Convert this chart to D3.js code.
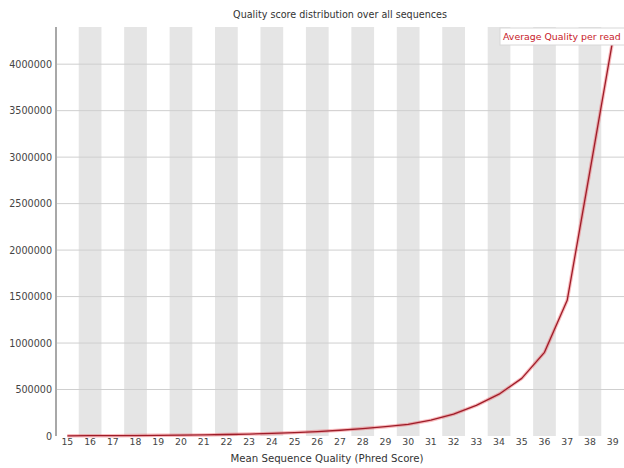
<!DOCTYPE html>
<html>
<head>
<meta charset="utf-8">
<script src="https://cdn.jsdelivr.net/npm/d3@7"></script>
<style>
  html, body { margin: 0; padding: 0; background: #fff; }
  svg { display: block; }
  text { font-family: "DejaVu Sans", sans-serif; }
</style>
</head>
<body>
<svg id="chart" width="624" height="468"></svg>
<script>
// Mean per-read quality (Phred) and number of reads with that mean
const qualities = [15, 16, 17, 18, 19, 20, 21, 22, 23, 24, 25, 26, 27,
                   28, 29, 30, 31, 32, 33, 34, 35, 36, 37, 38, 39];
const readCounts = [2000, 3000, 4000, 5000, 7000, 9000, 12000, 16000, 21000,
                    28000, 37000, 48000, 62000, 80000, 100000, 125000, 170000,
                    235000, 330000, 450000, 620000, 900000, 1460000, 2850000, 4250000];
const yTicks = [0, 500000, 1000000, 1500000, 2000000, 2500000,
                3000000, 3500000, 4000000];

const chartTitle = "Quality score distribution over all sequences";
const xTitle = "Mean Sequence Quality (Phred Score)";
const seriesName = "Average Quality per read";

const svg = d3.select("#chart");
const margin = { top: 27, right: 0, bottom: 32, left: 56 };
const W = 624, H = 468;
const plotW = W - margin.left - margin.right;
const plotH = H - margin.top - margin.bottom;

const g = svg.append("g").attr("transform", `translate(${margin.left},${margin.top})`);

const x = d3.scaleBand().domain(qualities).range([0, plotW]).padding(0);
const y = d3.scaleLinear().domain([0, 4400000]).range([plotH, 0]);

// Alternating column shading
g.append("g").selectAll("rect")
  .data(qualities.filter((d, i) => i % 2 === 1))
  .join("rect")
  .attr("x", d => x(d))
  .attr("y", 0)
  .attr("width", x.bandwidth())
  .attr("height", plotH)
  .attr("fill", "#e5e5e5");

// Horizontal grid lines
g.append("g").selectAll("line")
  .data(yTicks.filter(v => v > 0))
  .join("line")
  .attr("x1", 0).attr("x2", plotW)
  .attr("y1", d => y(d)).attr("y2", d => y(d))
  .attr("stroke", "#cfcfcf")
  .attr("stroke-width", 1);

// Y axis line
g.append("line")
  .attr("x1", 0).attr("x2", 0)
  .attr("y1", 0).attr("y2", plotH)
  .attr("stroke", "#a8a8a8")
  .attr("stroke-width", 2);

// Y axis labels
const yAxis = d3.axisLeft(y).tickValues(yTicks).tickSize(0).tickPadding(4)
  .tickFormat(d3.format("d"));
g.append("g").call(yAxis)
  .call(s => s.select(".domain").remove())
  .selectAll("text")
  .attr("font-size", 9.6)
  .attr("fill", "#444")
  .attr("font-family", "DejaVu Sans, sans-serif");

// X axis labels
const xAxis = d3.axisBottom(x).tickSize(0).tickPadding(2);
g.append("g").attr("transform", `translate(0,${plotH})`).call(xAxis)
  .call(s => s.select(".domain").remove())
  .selectAll("text")
  .attr("font-size", 9.3)
  .attr("fill", "#444")
  .attr("font-family", "DejaVu Sans, sans-serif");

// Quality curve
const line = d3.line()
  .x((d, i) => x(qualities[i]) + x.bandwidth() / 2)
  .y(d => y(d));

g.append("path")
  .datum(readCounts)
  .attr("d", line)
  .attr("fill", "none")
  .attr("stroke", "rgba(235,60,70,0.35)")
  .attr("stroke-width", 3.5)
  .attr("stroke-linejoin", "round");

g.append("path")
  .datum(readCounts)
  .attr("d", line)
  .attr("fill", "none")
  .attr("stroke", "#9e1c28")
  .attr("stroke-width", 1.3)
  .attr("stroke-linejoin", "round");

// Legend
const legend = svg.append("g").attr("transform", "translate(500,28)");
legend.append("rect")
  .attr("x", 0).attr("y", 0)
  .attr("width", 130).attr("height", 17)
  .attr("fill", "#fff")
  .attr("stroke", "#d8d8d8");
legend.append("text")
  .attr("x", 3).attr("y", 12)
  .attr("font-size", 9.4)
  .attr("fill", "#c8202a")
  .text(seriesName);

// Titles
svg.append("text")
  .attr("x", margin.left + plotW / 2)
  .attr("y", 18)
  .attr("text-anchor", "middle")
  .attr("font-size", 9.6)
  .attr("fill", "#333")
  .text(chartTitle);

svg.append("text")
  .attr("x", margin.left + plotW / 2 - 13)
  .attr("y", 462)
  .attr("text-anchor", "middle")
  .attr("font-size", 10.2)
  .attr("fill", "#333")
  .text(xTitle);
</script>
</body>
</html>
